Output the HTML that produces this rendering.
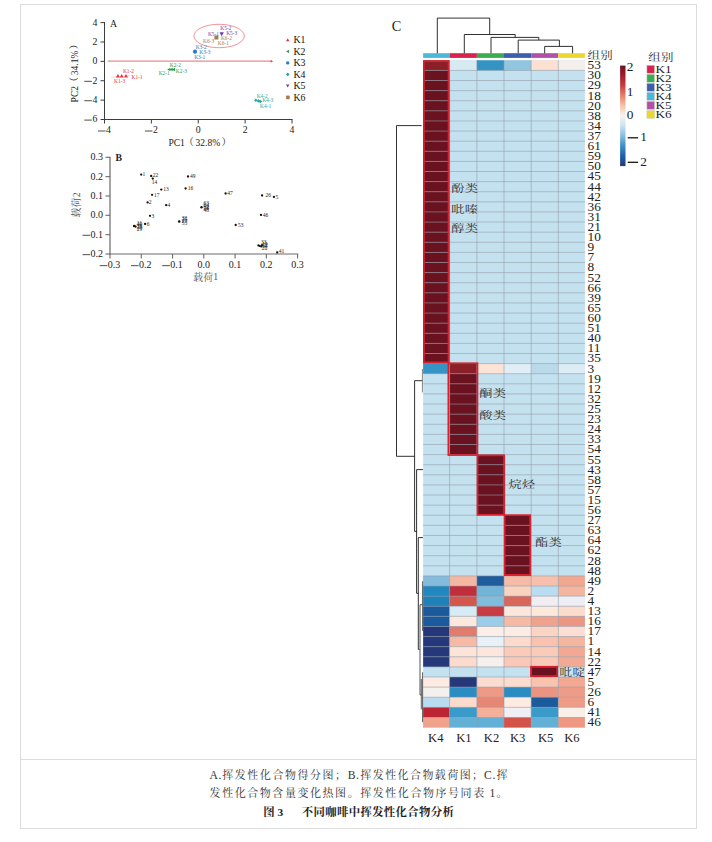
<!DOCTYPE html><html><head><meta charset="utf-8"><style>html,body{margin:0;padding:0;background:#fff;}svg{display:block;font-family:"Liberation Serif","Noto Serif CJK SC",serif;}</style></head><body><svg width="712" height="842" viewBox="0 0 712 842"><rect x="0" y="0" width="712" height="842" fill="#fff"/><rect x="20.5" y="4.5" width="676" height="824" fill="none" stroke="#dcdcdc" stroke-width="1"/>
<line x1="20.50" y1="759.50" x2="696.50" y2="759.50" stroke="#dcdcdc" stroke-width="1" />
<line x1="104.50" y1="22.10" x2="104.50" y2="120.00" stroke="#3c3c3c" stroke-width="1" />
<line x1="104.00" y1="119.50" x2="292.50" y2="119.50" stroke="#3c3c3c" stroke-width="1" />
<line x1="100.50" y1="22.60" x2="104.50" y2="22.60" stroke="#3c3c3c" stroke-width="1" />
<text x="92.40" y="25.50" font-size="9.8" fill="#222" text-anchor="start" font-weight="normal" font-family="Liberation Serif" >4</text>
<line x1="100.50" y1="41.98" x2="104.50" y2="41.98" stroke="#3c3c3c" stroke-width="1" />
<text x="92.40" y="44.88" font-size="9.8" fill="#222" text-anchor="start" font-weight="normal" font-family="Liberation Serif" >2</text>
<line x1="100.50" y1="61.36" x2="104.50" y2="61.36" stroke="#3c3c3c" stroke-width="1" />
<text x="92.40" y="64.26" font-size="9.8" fill="#222" text-anchor="start" font-weight="normal" font-family="Liberation Serif" >0</text>
<line x1="100.50" y1="80.74" x2="104.50" y2="80.74" stroke="#3c3c3c" stroke-width="1" />
<line x1="84.30" y1="81.34" x2="91.90" y2="81.34" stroke="#222" stroke-width="0.8" />
<text x="92.40" y="83.64" font-size="9.8" fill="#222" text-anchor="start" font-weight="normal" font-family="Liberation Serif" >2</text>
<line x1="100.50" y1="100.12" x2="104.50" y2="100.12" stroke="#3c3c3c" stroke-width="1" />
<line x1="84.30" y1="100.72" x2="91.90" y2="100.72" stroke="#222" stroke-width="0.8" />
<text x="92.40" y="103.02" font-size="9.8" fill="#222" text-anchor="start" font-weight="normal" font-family="Liberation Serif" >4</text>
<line x1="100.50" y1="119.50" x2="104.50" y2="119.50" stroke="#3c3c3c" stroke-width="1" />
<line x1="84.30" y1="120.10" x2="91.90" y2="120.10" stroke="#222" stroke-width="0.8" />
<text x="92.40" y="122.40" font-size="9.8" fill="#222" text-anchor="start" font-weight="normal" font-family="Liberation Serif" >6</text>
<line x1="104.50" y1="119.50" x2="104.50" y2="123.50" stroke="#3c3c3c" stroke-width="1" />
<line x1="98.00" y1="131.00" x2="105.60" y2="131.00" stroke="#222" stroke-width="0.8" />
<text x="106.10" y="133.30" font-size="9.8" fill="#222" text-anchor="start" font-weight="normal" font-family="Liberation Serif" >4</text>
<line x1="151.38" y1="119.50" x2="151.38" y2="123.50" stroke="#3c3c3c" stroke-width="1" />
<line x1="144.88" y1="131.00" x2="152.47" y2="131.00" stroke="#222" stroke-width="0.8" />
<text x="152.97" y="133.30" font-size="9.8" fill="#222" text-anchor="start" font-weight="normal" font-family="Liberation Serif" >2</text>
<line x1="198.25" y1="119.50" x2="198.25" y2="123.50" stroke="#3c3c3c" stroke-width="1" />
<text x="195.80" y="133.30" font-size="9.8" fill="#222" text-anchor="start" font-weight="normal" font-family="Liberation Serif" >0</text>
<line x1="245.12" y1="119.50" x2="245.12" y2="123.50" stroke="#3c3c3c" stroke-width="1" />
<text x="242.68" y="133.30" font-size="9.8" fill="#222" text-anchor="start" font-weight="normal" font-family="Liberation Serif" >2</text>
<line x1="292.00" y1="119.50" x2="292.00" y2="123.50" stroke="#3c3c3c" stroke-width="1" />
<text x="289.55" y="133.30" font-size="9.8" fill="#222" text-anchor="start" font-weight="normal" font-family="Liberation Serif" >4</text>
<text x="110.00" y="26.80" font-size="9.8" fill="#222" text-anchor="start" font-weight="normal" font-family="Liberation Serif" >A</text>
<text x="168.40" y="146.00" font-size="9.5" fill="#222" text-anchor="start" font-weight="normal" font-family="Liberation Serif" >PC1</text>
<text x="195.60" y="146.00" font-size="9.5" fill="#222" text-anchor="start" font-weight="normal" font-family="Liberation Serif" >32.8%</text>
<text x="184.00" y="146.20" font-size="9.8" fill="#222" text-anchor="start" font-family="'Liberation Serif','Noto Serif CJK SC',serif">（</text>
<text x="221.60" y="146.20" font-size="9.8" fill="#222" text-anchor="start" font-family="'Liberation Serif','Noto Serif CJK SC',serif">）</text>
<g transform="translate(78.0 102.4) rotate(-90)">
<text x="0.00" y="0.00" font-size="9.5" fill="#222" text-anchor="start" font-weight="normal" font-family="Liberation Serif" >PC2</text>
<text x="27.20" y="0.00" font-size="9.5" fill="#222" text-anchor="start" font-weight="normal" font-family="Liberation Serif" >34.1%</text>
<text x="15.60" y="0.20" font-size="9.8" fill="#222" text-anchor="start" font-family="'Liberation Serif','Noto Serif CJK SC',serif">（</text>
<text x="53.20" y="0.20" font-size="9.8" fill="#222" text-anchor="start" font-family="'Liberation Serif','Noto Serif CJK SC',serif">）</text>
</g>
<line x1="107.70" y1="61.10" x2="271.50" y2="61.10" stroke="#e23a46" stroke-width="0.75" />
<path d="M273.2 61.2 L270.6 60.0 L270.6 62.4 Z" fill="#e23a46"/>
<ellipse cx="219.1" cy="36.0" rx="25.2" ry="11.7" fill="none" stroke="#e23a46" stroke-width="0.55"/>
<line x1="111.20" y1="77.40" x2="130.20" y2="75.50" stroke="#f4b4b8" stroke-width="0.6" />
<path d="M117.90 74.00 L119.90 77.60 L115.90 77.60 Z" fill="#e8323c"/>
<path d="M121.70 74.00 L123.70 77.60 L119.70 77.60 Z" fill="#e8323c"/>
<path d="M126.00 74.00 L128.00 77.60 L124.00 77.60 Z" fill="#e8323c"/>
<text x="122.90" y="72.50" font-size="5.4" fill="#e8323c" text-anchor="start" font-weight="normal" font-family="Liberation Serif" >K1-2</text>
<text x="131.60" y="78.60" font-size="5.4" fill="#e8323c" text-anchor="start" font-weight="normal" font-family="Liberation Serif" >K1-1</text>
<text x="114.00" y="82.80" font-size="5.4" fill="#e8323c" text-anchor="start" font-weight="normal" font-family="Liberation Serif" >K1-3</text>
<path d="M167.20 69.50 L170.44 67.70 L170.44 71.30 Z" fill="#2f9a52"/>
<path d="M169.60 69.50 L172.84 67.70 L172.84 71.30 Z" fill="#2f9a52"/>
<path d="M171.80 69.50 L175.04 67.70 L175.04 71.30 Z" fill="#2f9a52"/>
<text x="169.80" y="66.90" font-size="5.4" fill="#2f9a52" text-anchor="start" font-weight="normal" font-family="Liberation Serif" >K2-2</text>
<text x="175.80" y="72.50" font-size="5.4" fill="#2f9a52" text-anchor="start" font-weight="normal" font-family="Liberation Serif" >K2-3</text>
<text x="158.70" y="74.80" font-size="5.4" fill="#2f9a52" text-anchor="start" font-weight="normal" font-family="Liberation Serif" >K2-1</text>
<circle cx="195.00" cy="51.70" r="2.1" fill="#2b7cc4"/>
<text x="195.70" y="49.20" font-size="5.4" fill="#2b7cc4" text-anchor="start" font-weight="normal" font-family="Liberation Serif" >K3-2</text>
<text x="199.30" y="53.70" font-size="5.4" fill="#2b7cc4" text-anchor="start" font-weight="normal" font-family="Liberation Serif" >K3-3</text>
<text x="194.20" y="59.00" font-size="5.4" fill="#2b7cc4" text-anchor="start" font-weight="normal" font-family="Liberation Serif" >K3-1</text>
<path d="M254.00 100.30 L255.80 98.50 L257.60 100.30 L255.80 102.10 Z" fill="#2ba79f"/>
<path d="M256.60 100.90 L258.40 99.10 L260.20 100.90 L258.40 102.70 Z" fill="#2ba79f"/>
<path d="M258.60 101.50 L260.40 99.70 L262.20 101.50 L260.40 103.30 Z" fill="#2ba79f"/>
<text x="256.70" y="97.70" font-size="5.4" fill="#2ba79f" text-anchor="start" font-weight="normal" font-family="Liberation Serif" >K4-2</text>
<text x="262.20" y="101.80" font-size="5.4" fill="#2ba79f" text-anchor="start" font-weight="normal" font-family="Liberation Serif" >K4-3</text>
<text x="260.00" y="108.10" font-size="5.4" fill="#2ba79f" text-anchor="start" font-weight="normal" font-family="Liberation Serif" >K4-1</text>
<path d="M221.70 36.20 L223.90 32.24 L219.50 32.24 Z" fill="#6a3fa6"/>
<text x="220.30" y="29.80" font-size="5.4" fill="#6a3fa6" text-anchor="start" font-weight="normal" font-family="Liberation Serif" >K5-2</text>
<text x="226.20" y="35.00" font-size="5.4" fill="#6a3fa6" text-anchor="start" font-weight="normal" font-family="Liberation Serif" >K5-3</text>
<text x="207.90" y="36.40" font-size="5.4" fill="#6a3fa6" text-anchor="start" font-weight="normal" font-family="Liberation Serif" >K5-1</text>
<rect x="214.40" y="35.50" width="4.00" height="4.00" fill="#a67a50" />
<text x="220.90" y="40.30" font-size="5.4" fill="#a67a50" text-anchor="start" font-weight="normal" font-family="Liberation Serif" >K6-2</text>
<text x="203.00" y="42.70" font-size="5.4" fill="#a67a50" text-anchor="start" font-weight="normal" font-family="Liberation Serif" >K6-3</text>
<text x="217.80" y="44.80" font-size="5.4" fill="#a67a50" text-anchor="start" font-weight="normal" font-family="Liberation Serif" >K6-1</text>
<path d="M287.70 38.20 L289.40 41.26 L286.00 41.26 Z" fill="#e8323c"/>
<path d="M286.00 51.40 L289.06 49.70 L289.06 53.10 Z" fill="#2f9a52"/>
<circle cx="287.70" cy="62.90" r="1.7" fill="#2b7cc4"/>
<path d="M285.80 74.40 L287.70 72.50 L289.60 74.40 L287.70 76.30 Z" fill="#2ba79f"/>
<path d="M287.70 87.60 L289.40 84.54 L286.00 84.54 Z" fill="#6a3fa6"/>
<rect x="286.10" y="95.60" width="3.60" height="3.60" fill="#a67a50" />
<text x="293.50" y="43.20" font-size="9.8" fill="#111" text-anchor="start" font-weight="normal" font-family="Liberation Serif" >K1</text>
<text x="293.50" y="54.70" font-size="9.8" fill="#111" text-anchor="start" font-weight="normal" font-family="Liberation Serif" >K2</text>
<text x="293.50" y="66.20" font-size="9.8" fill="#111" text-anchor="start" font-weight="normal" font-family="Liberation Serif" >K3</text>
<text x="293.50" y="77.70" font-size="9.8" fill="#111" text-anchor="start" font-weight="normal" font-family="Liberation Serif" >K4</text>
<text x="293.50" y="89.20" font-size="9.8" fill="#111" text-anchor="start" font-weight="normal" font-family="Liberation Serif" >K5</text>
<text x="293.50" y="100.70" font-size="9.8" fill="#111" text-anchor="start" font-weight="normal" font-family="Liberation Serif" >K6</text>
<line x1="110.00" y1="156.70" x2="110.00" y2="254.60" stroke="#6a6a6a" stroke-width="1.2" />
<line x1="109.40" y1="254.00" x2="298.20" y2="254.00" stroke="#6a6a6a" stroke-width="1.2" />
<line x1="105.50" y1="157.30" x2="110.00" y2="157.30" stroke="#6a6a6a" stroke-width="1.1" />
<text x="90.60" y="160.30" font-size="10.0" fill="#222" text-anchor="start" font-weight="normal" font-family="Liberation Serif" >0.3</text>
<line x1="105.50" y1="176.64" x2="110.00" y2="176.64" stroke="#6a6a6a" stroke-width="1.1" />
<text x="90.60" y="179.64" font-size="10.0" fill="#222" text-anchor="start" font-weight="normal" font-family="Liberation Serif" >0.2</text>
<line x1="105.50" y1="195.98" x2="110.00" y2="195.98" stroke="#6a6a6a" stroke-width="1.1" />
<text x="90.60" y="198.98" font-size="10.0" fill="#222" text-anchor="start" font-weight="normal" font-family="Liberation Serif" >0.1</text>
<line x1="105.50" y1="215.32" x2="110.00" y2="215.32" stroke="#6a6a6a" stroke-width="1.1" />
<text x="90.60" y="218.32" font-size="10.0" fill="#222" text-anchor="start" font-weight="normal" font-family="Liberation Serif" >0.0</text>
<line x1="105.50" y1="234.66" x2="110.00" y2="234.66" stroke="#6a6a6a" stroke-width="1.1" />
<line x1="82.50" y1="235.31" x2="90.10" y2="235.31" stroke="#222" stroke-width="0.8" />
<text x="90.60" y="237.66" font-size="10.0" fill="#222" text-anchor="start" font-weight="normal" font-family="Liberation Serif" >0.1</text>
<line x1="105.50" y1="254.00" x2="110.00" y2="254.00" stroke="#6a6a6a" stroke-width="1.1" />
<line x1="82.50" y1="254.65" x2="90.10" y2="254.65" stroke="#222" stroke-width="0.8" />
<text x="90.60" y="257.00" font-size="10.0" fill="#222" text-anchor="start" font-weight="normal" font-family="Liberation Serif" >0.2</text>
<line x1="110.00" y1="254.00" x2="110.00" y2="258.50" stroke="#6a6a6a" stroke-width="1.1" />
<line x1="99.70" y1="265.65" x2="107.30" y2="265.65" stroke="#222" stroke-width="0.8" />
<text x="107.80" y="268.00" font-size="10.0" fill="#222" text-anchor="start" font-weight="normal" font-family="Liberation Serif" >0.3</text>
<line x1="141.27" y1="254.00" x2="141.27" y2="258.50" stroke="#6a6a6a" stroke-width="1.1" />
<line x1="130.97" y1="265.65" x2="138.57" y2="265.65" stroke="#222" stroke-width="0.8" />
<text x="139.07" y="268.00" font-size="10.0" fill="#222" text-anchor="start" font-weight="normal" font-family="Liberation Serif" >0.2</text>
<line x1="172.53" y1="254.00" x2="172.53" y2="258.50" stroke="#6a6a6a" stroke-width="1.1" />
<line x1="162.23" y1="265.65" x2="169.83" y2="265.65" stroke="#222" stroke-width="0.8" />
<text x="170.33" y="268.00" font-size="10.0" fill="#222" text-anchor="start" font-weight="normal" font-family="Liberation Serif" >0.1</text>
<line x1="203.80" y1="254.00" x2="203.80" y2="258.50" stroke="#6a6a6a" stroke-width="1.1" />
<text x="197.55" y="268.00" font-size="10.0" fill="#222" text-anchor="start" font-weight="normal" font-family="Liberation Serif" >0.0</text>
<line x1="235.07" y1="254.00" x2="235.07" y2="258.50" stroke="#6a6a6a" stroke-width="1.1" />
<text x="228.82" y="268.00" font-size="10.0" fill="#222" text-anchor="start" font-weight="normal" font-family="Liberation Serif" >0.1</text>
<line x1="266.33" y1="254.00" x2="266.33" y2="258.50" stroke="#6a6a6a" stroke-width="1.1" />
<text x="260.08" y="268.00" font-size="10.0" fill="#222" text-anchor="start" font-weight="normal" font-family="Liberation Serif" >0.2</text>
<line x1="297.60" y1="254.00" x2="297.60" y2="258.50" stroke="#6a6a6a" stroke-width="1.1" />
<text x="291.35" y="268.00" font-size="10.0" fill="#222" text-anchor="start" font-weight="normal" font-family="Liberation Serif" >0.3</text>
<text x="115.60" y="161.40" font-size="9.8" fill="#222" text-anchor="start" font-weight="bold" font-family="Liberation Serif" >B</text>
<text x="193.20" y="280.60" font-size="9.8" fill="#555" text-anchor="start" letter-spacing="0.2" font-family="'Liberation Serif','Noto Serif CJK SC',serif">载荷</text>
<text x="213.30" y="280.30" font-size="9.8" fill="#555" text-anchor="start" font-weight="normal" font-family="Liberation Serif" >1</text>
<g transform="translate(80.0 217.4) rotate(-90)">
<text x="0.00" y="0.00" font-size="9.8" fill="#555" text-anchor="start" letter-spacing="0.2" font-family="'Liberation Serif','Noto Serif CJK SC',serif">载荷</text>
<text x="20.10" y="-0.30" font-size="9.8" fill="#555" text-anchor="start" font-weight="normal" font-family="Liberation Serif" >2</text>
</g>
<circle cx="141.20" cy="174.60" r="1.15" fill="#111"/>
<text x="142.50" y="176.40" font-size="5.5" fill="#222" text-anchor="start" font-weight="normal" font-family="Liberation Serif" >1</text>
<circle cx="151.20" cy="176.00" r="1.15" fill="#111"/>
<text x="152.70" y="177.00" font-size="5.5" fill="#222" text-anchor="start" font-weight="normal" font-family="Liberation Serif" >22</text>
<circle cx="152.80" cy="178.60" r="1.15" fill="#111"/>
<text x="151.70" y="183.70" font-size="5.5" fill="#222" text-anchor="start" font-weight="normal" font-family="Liberation Serif" >14</text>
<circle cx="161.30" cy="189.60" r="1.15" fill="#111"/>
<text x="163.20" y="191.40" font-size="5.5" fill="#222" text-anchor="start" font-weight="normal" font-family="Liberation Serif" >13</text>
<circle cx="152.10" cy="194.80" r="1.15" fill="#111"/>
<text x="154.00" y="196.60" font-size="5.5" fill="#222" text-anchor="start" font-weight="normal" font-family="Liberation Serif" >17</text>
<circle cx="147.60" cy="202.40" r="1.15" fill="#111"/>
<text x="148.70" y="204.20" font-size="5.5" fill="#222" text-anchor="start" font-weight="normal" font-family="Liberation Serif" >2</text>
<circle cx="166.20" cy="205.20" r="1.15" fill="#111"/>
<text x="167.50" y="207.00" font-size="5.5" fill="#222" text-anchor="start" font-weight="normal" font-family="Liberation Serif" >4</text>
<circle cx="150.00" cy="215.80" r="1.15" fill="#111"/>
<text x="151.50" y="217.60" font-size="5.5" fill="#222" text-anchor="start" font-weight="normal" font-family="Liberation Serif" >3</text>
<circle cx="145.10" cy="224.00" r="1.15" fill="#111"/>
<text x="146.80" y="225.80" font-size="5.5" fill="#222" text-anchor="start" font-weight="normal" font-family="Liberation Serif" >6</text>
<circle cx="188.00" cy="176.50" r="1.15" fill="#111"/>
<text x="189.90" y="178.30" font-size="5.5" fill="#222" text-anchor="start" font-weight="normal" font-family="Liberation Serif" >49</text>
<circle cx="185.60" cy="188.50" r="1.15" fill="#111"/>
<text x="187.70" y="190.30" font-size="5.5" fill="#222" text-anchor="start" font-weight="normal" font-family="Liberation Serif" >16</text>
<circle cx="225.60" cy="193.50" r="1.15" fill="#111"/>
<text x="227.30" y="195.30" font-size="5.5" fill="#222" text-anchor="start" font-weight="normal" font-family="Liberation Serif" >47</text>
<circle cx="262.10" cy="195.50" r="1.15" fill="#111"/>
<text x="265.40" y="197.30" font-size="5.5" fill="#222" text-anchor="start" font-weight="normal" font-family="Liberation Serif" >26</text>
<circle cx="273.90" cy="196.90" r="1.15" fill="#111"/>
<text x="275.40" y="198.70" font-size="5.5" fill="#222" text-anchor="start" font-weight="normal" font-family="Liberation Serif" >5</text>
<circle cx="261.00" cy="214.90" r="1.15" fill="#111"/>
<text x="262.70" y="216.70" font-size="5.5" fill="#222" text-anchor="start" font-weight="normal" font-family="Liberation Serif" >46</text>
<circle cx="235.70" cy="225.00" r="1.15" fill="#111"/>
<text x="238.00" y="226.80" font-size="5.5" fill="#222" text-anchor="start" font-weight="normal" font-family="Liberation Serif" >53</text>
<circle cx="277.20" cy="252.40" r="1.15" fill="#111"/>
<text x="278.70" y="253.00" font-size="5.5" fill="#222" text-anchor="start" font-weight="normal" font-family="Liberation Serif" >41</text>
<circle cx="134.20" cy="226.00" r="1.3" fill="#111"/>
<circle cx="135.60" cy="226.60" r="1.1" fill="#111"/>
<text x="136.80" y="224.60" font-size="5.5" fill="#222" text-anchor="start" font-weight="normal" font-family="Liberation Serif" >11</text>
<text x="136.80" y="226.20" font-size="5.5" fill="#222" text-anchor="start" font-weight="normal" font-family="Liberation Serif" >40</text>
<text x="136.80" y="227.80" font-size="5.5" fill="#222" text-anchor="start" font-weight="normal" font-family="Liberation Serif" >35</text>
<text x="136.80" y="229.40" font-size="5.5" fill="#222" text-anchor="start" font-weight="normal" font-family="Liberation Serif" >28</text>
<text x="136.80" y="231.00" font-size="5.5" fill="#222" text-anchor="start" font-weight="normal" font-family="Liberation Serif" >29</text>
<circle cx="179.20" cy="221.50" r="1.3" fill="#111"/>
<text x="181.80" y="219.70" font-size="5.5" fill="#222" text-anchor="start" font-weight="normal" font-family="Liberation Serif" >32</text>
<text x="181.80" y="221.30" font-size="5.5" fill="#222" text-anchor="start" font-weight="normal" font-family="Liberation Serif" >25</text>
<text x="181.80" y="222.90" font-size="5.5" fill="#222" text-anchor="start" font-weight="normal" font-family="Liberation Serif" >23</text>
<text x="181.80" y="224.90" font-size="5.5" fill="#222" text-anchor="start" font-weight="normal" font-family="Liberation Serif" >55</text>
<circle cx="201.50" cy="207.20" r="1.2" fill="#111"/>
<text x="203.60" y="205.40" font-size="5.5" fill="#222" text-anchor="start" font-weight="normal" font-family="Liberation Serif" >63</text>
<text x="203.60" y="207.00" font-size="5.5" fill="#222" text-anchor="start" font-weight="normal" font-family="Liberation Serif" >64</text>
<text x="203.60" y="208.60" font-size="5.5" fill="#222" text-anchor="start" font-weight="normal" font-family="Liberation Serif" >62</text>
<text x="203.60" y="210.20" font-size="5.5" fill="#222" text-anchor="start" font-weight="normal" font-family="Liberation Serif" >28</text>
<text x="203.60" y="211.80" font-size="5.5" fill="#222" text-anchor="start" font-weight="normal" font-family="Liberation Serif" >48</text>
<circle cx="258.40" cy="245.40" r="1.1" fill="#111"/>
<circle cx="259.80" cy="246.00" r="1.1" fill="#111"/>
<circle cx="261.20" cy="246.40" r="1.1" fill="#111"/>
<circle cx="262.00" cy="245.20" r="1.1" fill="#111"/>
<text x="261.00" y="243.80" font-size="5.5" fill="#222" text-anchor="start" font-weight="normal" font-family="Liberation Serif" >33</text>
<text x="261.80" y="245.60" font-size="5.5" fill="#222" text-anchor="start" font-weight="normal" font-family="Liberation Serif" >19</text>
<text x="262.40" y="247.00" font-size="5.5" fill="#222" text-anchor="start" font-weight="normal" font-family="Liberation Serif" >12</text>
<text x="261.40" y="248.40" font-size="5.5" fill="#222" text-anchor="start" font-weight="normal" font-family="Liberation Serif" >54</text>
<text x="261.80" y="249.80" font-size="5.5" fill="#222" text-anchor="start" font-weight="normal" font-family="Liberation Serif" >20</text>
<text x="391.80" y="30.60" font-size="14.3" fill="#222" text-anchor="start" font-weight="normal" font-family="Liberation Serif" >C</text>
<rect x="423.15" y="60.30" width="161.75" height="667.26" fill="#c4e1ef" />
<rect x="423.15" y="60.30" width="26.45" height="10.11" fill="#8b2028" />
<rect x="449.60" y="60.30" width="27.30" height="10.11" fill="#d7eaf2" />
<rect x="476.90" y="60.30" width="27.10" height="10.11" fill="#3393c3" />
<rect x="504.00" y="60.30" width="27.20" height="10.11" fill="#92c6df" />
<rect x="531.20" y="60.30" width="27.10" height="10.11" fill="#fde0d1" />
<rect x="558.30" y="60.30" width="26.60" height="10.11" fill="#f5efec" />
<rect x="423.15" y="70.41" width="26.45" height="10.11" fill="#6b1220" />
<rect x="423.15" y="80.52" width="26.45" height="10.11" fill="#6b1220" />
<rect x="423.15" y="90.63" width="26.45" height="10.11" fill="#6b1220" />
<rect x="423.15" y="100.74" width="26.45" height="10.11" fill="#6b1220" />
<rect x="423.15" y="110.85" width="26.45" height="10.11" fill="#6b1220" />
<rect x="423.15" y="120.96" width="26.45" height="10.11" fill="#6b1220" />
<rect x="423.15" y="131.07" width="26.45" height="10.11" fill="#6b1220" />
<rect x="423.15" y="141.18" width="26.45" height="10.11" fill="#6b1220" />
<rect x="423.15" y="151.29" width="26.45" height="10.11" fill="#6b1220" />
<rect x="423.15" y="161.40" width="26.45" height="10.11" fill="#6b1220" />
<rect x="423.15" y="171.51" width="26.45" height="10.11" fill="#6b1220" />
<rect x="423.15" y="181.62" width="26.45" height="10.11" fill="#6b1220" />
<rect x="423.15" y="191.73" width="26.45" height="10.11" fill="#6b1220" />
<rect x="423.15" y="201.84" width="26.45" height="10.11" fill="#6b1220" />
<rect x="423.15" y="211.95" width="26.45" height="10.11" fill="#6b1220" />
<rect x="423.15" y="222.06" width="26.45" height="10.11" fill="#6b1220" />
<rect x="423.15" y="232.17" width="26.45" height="10.11" fill="#6b1220" />
<rect x="423.15" y="242.28" width="26.45" height="10.11" fill="#6b1220" />
<rect x="423.15" y="252.39" width="26.45" height="10.11" fill="#6b1220" />
<rect x="423.15" y="262.50" width="26.45" height="10.11" fill="#6b1220" />
<rect x="423.15" y="272.61" width="26.45" height="10.11" fill="#6b1220" />
<rect x="423.15" y="282.72" width="26.45" height="10.11" fill="#6b1220" />
<rect x="423.15" y="292.83" width="26.45" height="10.11" fill="#6b1220" />
<rect x="423.15" y="302.94" width="26.45" height="10.11" fill="#6b1220" />
<rect x="423.15" y="313.05" width="26.45" height="10.11" fill="#6b1220" />
<rect x="423.15" y="323.16" width="26.45" height="10.11" fill="#6b1220" />
<rect x="423.15" y="333.27" width="26.45" height="10.11" fill="#6b1220" />
<rect x="423.15" y="343.38" width="26.45" height="10.11" fill="#6b1220" />
<rect x="423.15" y="353.49" width="26.45" height="10.11" fill="#6b1220" />
<rect x="423.15" y="363.60" width="26.45" height="10.11" fill="#3594c6" />
<rect x="449.60" y="363.60" width="27.30" height="10.11" fill="#8b2028" />
<rect x="476.90" y="363.60" width="27.10" height="10.11" fill="#fde3d6" />
<rect x="504.00" y="363.60" width="27.20" height="10.11" fill="#e1eef5" />
<rect x="531.20" y="363.60" width="27.10" height="10.11" fill="#badaec" />
<rect x="558.30" y="363.60" width="26.60" height="10.11" fill="#dcecf4" />
<rect x="449.60" y="373.71" width="27.30" height="10.11" fill="#6b1220" />
<rect x="449.60" y="383.82" width="27.30" height="10.11" fill="#6b1220" />
<rect x="449.60" y="393.93" width="27.30" height="10.11" fill="#6b1220" />
<rect x="449.60" y="404.04" width="27.30" height="10.11" fill="#6b1220" />
<rect x="449.60" y="414.15" width="27.30" height="10.11" fill="#6b1220" />
<rect x="449.60" y="424.26" width="27.30" height="10.11" fill="#6b1220" />
<rect x="449.60" y="434.37" width="27.30" height="10.11" fill="#6b1220" />
<rect x="449.60" y="444.48" width="27.30" height="10.11" fill="#6b1220" />
<rect x="476.90" y="454.59" width="27.10" height="10.11" fill="#6b1220" />
<rect x="476.90" y="464.70" width="27.10" height="10.11" fill="#6b1220" />
<rect x="476.90" y="474.81" width="27.10" height="10.11" fill="#6b1220" />
<rect x="476.90" y="484.92" width="27.10" height="10.11" fill="#6b1220" />
<rect x="476.90" y="495.03" width="27.10" height="10.11" fill="#6b1220" />
<rect x="476.90" y="505.14" width="27.10" height="10.11" fill="#6b1220" />
<rect x="504.00" y="515.25" width="27.20" height="10.11" fill="#6b1220" />
<rect x="504.00" y="525.36" width="27.20" height="10.11" fill="#6b1220" />
<rect x="504.00" y="535.47" width="27.20" height="10.11" fill="#6b1220" />
<rect x="504.00" y="545.58" width="27.20" height="10.11" fill="#6b1220" />
<rect x="504.00" y="555.69" width="27.20" height="10.11" fill="#6b1220" />
<rect x="504.00" y="565.80" width="27.20" height="10.11" fill="#6b1220" />
<rect x="423.15" y="575.91" width="26.45" height="10.11" fill="#82bbdc" />
<rect x="449.60" y="575.91" width="27.30" height="10.11" fill="#f4b8a2" />
<rect x="476.90" y="575.91" width="27.10" height="10.11" fill="#1f5c9e" />
<rect x="504.00" y="575.91" width="27.20" height="10.11" fill="#f5bba6" />
<rect x="531.20" y="575.91" width="27.10" height="10.11" fill="#f6c0ac" />
<rect x="558.30" y="575.91" width="26.60" height="10.11" fill="#f2a890" />
<rect x="423.15" y="586.02" width="26.45" height="10.11" fill="#2187bf" />
<rect x="449.60" y="586.02" width="27.30" height="10.11" fill="#bf2f3b" />
<rect x="476.90" y="586.02" width="27.10" height="10.11" fill="#72b4d8" />
<rect x="504.00" y="586.02" width="27.20" height="10.11" fill="#fad2c0" />
<rect x="531.20" y="586.02" width="27.10" height="10.11" fill="#badcf0" />
<rect x="558.30" y="586.02" width="26.60" height="10.11" fill="#f4b49e" />
<rect x="423.15" y="596.13" width="26.45" height="10.11" fill="#2080b8" />
<rect x="449.60" y="596.13" width="27.30" height="10.11" fill="#d4574d" />
<rect x="476.90" y="596.13" width="27.10" height="10.11" fill="#80bddc" />
<rect x="504.00" y="596.13" width="27.20" height="10.11" fill="#d9665a" />
<rect x="531.20" y="596.13" width="27.10" height="10.11" fill="#f0eef0" />
<rect x="558.30" y="596.13" width="26.60" height="10.11" fill="#eceef4" />
<rect x="423.15" y="606.24" width="26.45" height="10.11" fill="#1c5a9e" />
<rect x="449.60" y="606.24" width="27.30" height="10.11" fill="#d6ebf6" />
<rect x="476.90" y="606.24" width="27.10" height="10.11" fill="#c83c44" />
<rect x="504.00" y="606.24" width="27.20" height="10.11" fill="#fde6dc" />
<rect x="531.20" y="606.24" width="27.10" height="10.11" fill="#fde8dc" />
<rect x="558.30" y="606.24" width="26.60" height="10.11" fill="#fcdccc" />
<rect x="423.15" y="616.35" width="26.45" height="10.11" fill="#1c5a9e" />
<rect x="449.60" y="616.35" width="27.30" height="10.11" fill="#fde8de" />
<rect x="476.90" y="616.35" width="27.10" height="10.11" fill="#9ccde8" />
<rect x="504.00" y="616.35" width="27.20" height="10.11" fill="#f6baa4" />
<rect x="531.20" y="616.35" width="27.10" height="10.11" fill="#f0a28c" />
<rect x="558.30" y="616.35" width="26.60" height="10.11" fill="#ec9684" />
<rect x="423.15" y="626.46" width="26.45" height="10.11" fill="#25397a" />
<rect x="449.60" y="626.46" width="27.30" height="10.11" fill="#e07c6e" />
<rect x="476.90" y="626.46" width="27.10" height="10.11" fill="#fbeee8" />
<rect x="504.00" y="626.46" width="27.20" height="10.11" fill="#fdece4" />
<rect x="531.20" y="626.46" width="27.10" height="10.11" fill="#fbd4c4" />
<rect x="558.30" y="626.46" width="26.60" height="10.11" fill="#fcdfd2" />
<rect x="423.15" y="636.57" width="26.45" height="10.11" fill="#25397a" />
<rect x="449.60" y="636.57" width="27.30" height="10.11" fill="#f6b9a4" />
<rect x="476.90" y="636.57" width="27.10" height="10.11" fill="#e8f0f8" />
<rect x="504.00" y="636.57" width="27.20" height="10.11" fill="#fcdacc" />
<rect x="531.20" y="636.57" width="27.10" height="10.11" fill="#f8c2ae" />
<rect x="558.30" y="636.57" width="26.60" height="10.11" fill="#f5b6a0" />
<rect x="423.15" y="646.68" width="26.45" height="10.11" fill="#25397a" />
<rect x="449.60" y="646.68" width="27.30" height="10.11" fill="#fde4d8" />
<rect x="476.90" y="646.68" width="27.10" height="10.11" fill="#fde6de" />
<rect x="504.00" y="646.68" width="27.20" height="10.11" fill="#f9cbb8" />
<rect x="531.20" y="646.68" width="27.10" height="10.11" fill="#f9ccba" />
<rect x="558.30" y="646.68" width="26.60" height="10.11" fill="#f2a892" />
<rect x="423.15" y="656.79" width="26.45" height="10.11" fill="#25397a" />
<rect x="449.60" y="656.79" width="27.30" height="10.11" fill="#fcdacc" />
<rect x="476.90" y="656.79" width="27.10" height="10.11" fill="#f6f0ec" />
<rect x="504.00" y="656.79" width="27.20" height="10.11" fill="#f9c8b6" />
<rect x="531.20" y="656.79" width="27.10" height="10.11" fill="#f9cab8" />
<rect x="558.30" y="656.79" width="26.60" height="10.11" fill="#f2aa94" />
<rect x="531.20" y="666.90" width="27.10" height="10.11" fill="#6b1220" />
<rect x="558.30" y="666.90" width="26.60" height="10.11" fill="#c9e3f0" />
<rect x="423.15" y="677.01" width="26.45" height="10.11" fill="#fdeae0" />
<rect x="449.60" y="677.01" width="27.30" height="10.11" fill="#25397a" />
<rect x="476.90" y="677.01" width="27.10" height="10.11" fill="#fcdccf" />
<rect x="504.00" y="677.01" width="27.20" height="10.11" fill="#fcdccf" />
<rect x="531.20" y="677.01" width="27.10" height="10.11" fill="#f8c4b0" />
<rect x="558.30" y="677.01" width="26.60" height="10.11" fill="#f2a892" />
<rect x="423.15" y="687.12" width="26.45" height="10.11" fill="#f4f0ee" />
<rect x="449.60" y="687.12" width="27.30" height="10.11" fill="#2a8cc2" />
<rect x="476.90" y="687.12" width="27.10" height="10.11" fill="#ee9a86" />
<rect x="504.00" y="687.12" width="27.20" height="10.11" fill="#2a8cc2" />
<rect x="531.20" y="687.12" width="27.10" height="10.11" fill="#ec9482" />
<rect x="558.30" y="687.12" width="26.60" height="10.11" fill="#ee9c88" />
<rect x="423.15" y="697.23" width="26.45" height="10.11" fill="#badcf0" />
<rect x="449.60" y="697.23" width="27.30" height="10.11" fill="#fcdacc" />
<rect x="476.90" y="697.23" width="27.10" height="10.11" fill="#e68674" />
<rect x="504.00" y="697.23" width="27.20" height="10.11" fill="#fdeae0" />
<rect x="531.20" y="697.23" width="27.10" height="10.11" fill="#1c5a9e" />
<rect x="558.30" y="697.23" width="26.60" height="10.11" fill="#ee9c88" />
<rect x="423.15" y="707.34" width="26.45" height="10.11" fill="#bd2433" />
<rect x="449.60" y="707.34" width="27.30" height="10.11" fill="#3a9aca" />
<rect x="476.90" y="707.34" width="27.10" height="10.11" fill="#f4b09a" />
<rect x="504.00" y="707.34" width="27.20" height="10.11" fill="#f0f0f4" />
<rect x="531.20" y="707.34" width="27.10" height="10.11" fill="#3a9aca" />
<rect x="558.30" y="707.34" width="26.60" height="10.11" fill="#faf0ea" />
<rect x="423.15" y="717.45" width="26.45" height="10.11" fill="#f0a28c" />
<rect x="449.60" y="717.45" width="27.30" height="10.11" fill="#62b0d6" />
<rect x="476.90" y="717.45" width="27.10" height="10.11" fill="#62b0d6" />
<rect x="504.00" y="717.45" width="27.20" height="10.11" fill="#d4524a" />
<rect x="531.20" y="717.45" width="27.10" height="10.11" fill="#62b0d6" />
<rect x="558.30" y="717.45" width="26.60" height="10.11" fill="#ee9884" />
<line x1="423.15" y1="70.41" x2="584.90" y2="70.41" stroke="#929ba6" stroke-width="0.7" stroke-opacity="0.8"/>
<line x1="423.15" y1="80.52" x2="584.90" y2="80.52" stroke="#929ba6" stroke-width="0.7" stroke-opacity="0.8"/>
<line x1="423.15" y1="90.63" x2="584.90" y2="90.63" stroke="#929ba6" stroke-width="0.7" stroke-opacity="0.8"/>
<line x1="423.15" y1="100.74" x2="584.90" y2="100.74" stroke="#929ba6" stroke-width="0.7" stroke-opacity="0.8"/>
<line x1="423.15" y1="110.85" x2="584.90" y2="110.85" stroke="#929ba6" stroke-width="0.7" stroke-opacity="0.8"/>
<line x1="423.15" y1="120.96" x2="584.90" y2="120.96" stroke="#929ba6" stroke-width="0.7" stroke-opacity="0.8"/>
<line x1="423.15" y1="131.07" x2="584.90" y2="131.07" stroke="#929ba6" stroke-width="0.7" stroke-opacity="0.8"/>
<line x1="423.15" y1="141.18" x2="584.90" y2="141.18" stroke="#929ba6" stroke-width="0.7" stroke-opacity="0.8"/>
<line x1="423.15" y1="151.29" x2="584.90" y2="151.29" stroke="#929ba6" stroke-width="0.7" stroke-opacity="0.8"/>
<line x1="423.15" y1="161.40" x2="584.90" y2="161.40" stroke="#929ba6" stroke-width="0.7" stroke-opacity="0.8"/>
<line x1="423.15" y1="171.51" x2="584.90" y2="171.51" stroke="#929ba6" stroke-width="0.7" stroke-opacity="0.8"/>
<line x1="423.15" y1="181.62" x2="584.90" y2="181.62" stroke="#929ba6" stroke-width="0.7" stroke-opacity="0.8"/>
<line x1="423.15" y1="191.73" x2="584.90" y2="191.73" stroke="#929ba6" stroke-width="0.7" stroke-opacity="0.8"/>
<line x1="423.15" y1="201.84" x2="584.90" y2="201.84" stroke="#929ba6" stroke-width="0.7" stroke-opacity="0.8"/>
<line x1="423.15" y1="211.95" x2="584.90" y2="211.95" stroke="#929ba6" stroke-width="0.7" stroke-opacity="0.8"/>
<line x1="423.15" y1="222.06" x2="584.90" y2="222.06" stroke="#929ba6" stroke-width="0.7" stroke-opacity="0.8"/>
<line x1="423.15" y1="232.17" x2="584.90" y2="232.17" stroke="#929ba6" stroke-width="0.7" stroke-opacity="0.8"/>
<line x1="423.15" y1="242.28" x2="584.90" y2="242.28" stroke="#929ba6" stroke-width="0.7" stroke-opacity="0.8"/>
<line x1="423.15" y1="252.39" x2="584.90" y2="252.39" stroke="#929ba6" stroke-width="0.7" stroke-opacity="0.8"/>
<line x1="423.15" y1="262.50" x2="584.90" y2="262.50" stroke="#929ba6" stroke-width="0.7" stroke-opacity="0.8"/>
<line x1="423.15" y1="272.61" x2="584.90" y2="272.61" stroke="#929ba6" stroke-width="0.7" stroke-opacity="0.8"/>
<line x1="423.15" y1="282.72" x2="584.90" y2="282.72" stroke="#929ba6" stroke-width="0.7" stroke-opacity="0.8"/>
<line x1="423.15" y1="292.83" x2="584.90" y2="292.83" stroke="#929ba6" stroke-width="0.7" stroke-opacity="0.8"/>
<line x1="423.15" y1="302.94" x2="584.90" y2="302.94" stroke="#929ba6" stroke-width="0.7" stroke-opacity="0.8"/>
<line x1="423.15" y1="313.05" x2="584.90" y2="313.05" stroke="#929ba6" stroke-width="0.7" stroke-opacity="0.8"/>
<line x1="423.15" y1="323.16" x2="584.90" y2="323.16" stroke="#929ba6" stroke-width="0.7" stroke-opacity="0.8"/>
<line x1="423.15" y1="333.27" x2="584.90" y2="333.27" stroke="#929ba6" stroke-width="0.7" stroke-opacity="0.8"/>
<line x1="423.15" y1="343.38" x2="584.90" y2="343.38" stroke="#929ba6" stroke-width="0.7" stroke-opacity="0.8"/>
<line x1="423.15" y1="353.49" x2="584.90" y2="353.49" stroke="#929ba6" stroke-width="0.7" stroke-opacity="0.8"/>
<line x1="423.15" y1="363.60" x2="584.90" y2="363.60" stroke="#929ba6" stroke-width="0.7" stroke-opacity="0.8"/>
<line x1="423.15" y1="373.71" x2="584.90" y2="373.71" stroke="#929ba6" stroke-width="0.7" stroke-opacity="0.8"/>
<line x1="423.15" y1="383.82" x2="584.90" y2="383.82" stroke="#929ba6" stroke-width="0.7" stroke-opacity="0.8"/>
<line x1="423.15" y1="393.93" x2="584.90" y2="393.93" stroke="#929ba6" stroke-width="0.7" stroke-opacity="0.8"/>
<line x1="423.15" y1="404.04" x2="584.90" y2="404.04" stroke="#929ba6" stroke-width="0.7" stroke-opacity="0.8"/>
<line x1="423.15" y1="414.15" x2="584.90" y2="414.15" stroke="#929ba6" stroke-width="0.7" stroke-opacity="0.8"/>
<line x1="423.15" y1="424.26" x2="584.90" y2="424.26" stroke="#929ba6" stroke-width="0.7" stroke-opacity="0.8"/>
<line x1="423.15" y1="434.37" x2="584.90" y2="434.37" stroke="#929ba6" stroke-width="0.7" stroke-opacity="0.8"/>
<line x1="423.15" y1="444.48" x2="584.90" y2="444.48" stroke="#929ba6" stroke-width="0.7" stroke-opacity="0.8"/>
<line x1="423.15" y1="454.59" x2="584.90" y2="454.59" stroke="#929ba6" stroke-width="0.7" stroke-opacity="0.8"/>
<line x1="423.15" y1="464.70" x2="584.90" y2="464.70" stroke="#929ba6" stroke-width="0.7" stroke-opacity="0.8"/>
<line x1="423.15" y1="474.81" x2="584.90" y2="474.81" stroke="#929ba6" stroke-width="0.7" stroke-opacity="0.8"/>
<line x1="423.15" y1="484.92" x2="584.90" y2="484.92" stroke="#929ba6" stroke-width="0.7" stroke-opacity="0.8"/>
<line x1="423.15" y1="495.03" x2="584.90" y2="495.03" stroke="#929ba6" stroke-width="0.7" stroke-opacity="0.8"/>
<line x1="423.15" y1="505.14" x2="584.90" y2="505.14" stroke="#929ba6" stroke-width="0.7" stroke-opacity="0.8"/>
<line x1="423.15" y1="515.25" x2="584.90" y2="515.25" stroke="#929ba6" stroke-width="0.7" stroke-opacity="0.8"/>
<line x1="423.15" y1="525.36" x2="584.90" y2="525.36" stroke="#929ba6" stroke-width="0.7" stroke-opacity="0.8"/>
<line x1="423.15" y1="535.47" x2="584.90" y2="535.47" stroke="#929ba6" stroke-width="0.7" stroke-opacity="0.8"/>
<line x1="423.15" y1="545.58" x2="584.90" y2="545.58" stroke="#929ba6" stroke-width="0.7" stroke-opacity="0.8"/>
<line x1="423.15" y1="555.69" x2="584.90" y2="555.69" stroke="#929ba6" stroke-width="0.7" stroke-opacity="0.8"/>
<line x1="423.15" y1="565.80" x2="584.90" y2="565.80" stroke="#929ba6" stroke-width="0.7" stroke-opacity="0.8"/>
<line x1="423.15" y1="575.91" x2="584.90" y2="575.91" stroke="#929ba6" stroke-width="0.7" stroke-opacity="0.8"/>
<line x1="423.15" y1="586.02" x2="584.90" y2="586.02" stroke="#929ba6" stroke-width="0.7" stroke-opacity="0.8"/>
<line x1="423.15" y1="596.13" x2="584.90" y2="596.13" stroke="#929ba6" stroke-width="0.7" stroke-opacity="0.8"/>
<line x1="423.15" y1="606.24" x2="584.90" y2="606.24" stroke="#929ba6" stroke-width="0.7" stroke-opacity="0.8"/>
<line x1="423.15" y1="616.35" x2="584.90" y2="616.35" stroke="#929ba6" stroke-width="0.7" stroke-opacity="0.8"/>
<line x1="423.15" y1="626.46" x2="584.90" y2="626.46" stroke="#929ba6" stroke-width="0.7" stroke-opacity="0.8"/>
<line x1="423.15" y1="636.57" x2="584.90" y2="636.57" stroke="#929ba6" stroke-width="0.7" stroke-opacity="0.8"/>
<line x1="423.15" y1="646.68" x2="584.90" y2="646.68" stroke="#929ba6" stroke-width="0.7" stroke-opacity="0.8"/>
<line x1="423.15" y1="656.79" x2="584.90" y2="656.79" stroke="#929ba6" stroke-width="0.7" stroke-opacity="0.8"/>
<line x1="423.15" y1="666.90" x2="584.90" y2="666.90" stroke="#929ba6" stroke-width="0.7" stroke-opacity="0.8"/>
<line x1="423.15" y1="677.01" x2="584.90" y2="677.01" stroke="#929ba6" stroke-width="0.7" stroke-opacity="0.8"/>
<line x1="423.15" y1="687.12" x2="584.90" y2="687.12" stroke="#929ba6" stroke-width="0.7" stroke-opacity="0.8"/>
<line x1="423.15" y1="697.23" x2="584.90" y2="697.23" stroke="#929ba6" stroke-width="0.7" stroke-opacity="0.8"/>
<line x1="423.15" y1="707.34" x2="584.90" y2="707.34" stroke="#929ba6" stroke-width="0.7" stroke-opacity="0.8"/>
<line x1="423.15" y1="717.45" x2="584.90" y2="717.45" stroke="#929ba6" stroke-width="0.7" stroke-opacity="0.8"/>
<line x1="449.60" y1="60.30" x2="449.60" y2="727.56" stroke="#929ba6" stroke-width="0.7" stroke-opacity="0.8"/>
<line x1="476.90" y1="60.30" x2="476.90" y2="727.56" stroke="#929ba6" stroke-width="0.7" stroke-opacity="0.8"/>
<line x1="504.00" y1="60.30" x2="504.00" y2="727.56" stroke="#929ba6" stroke-width="0.7" stroke-opacity="0.8"/>
<line x1="531.20" y1="60.30" x2="531.20" y2="727.56" stroke="#929ba6" stroke-width="0.7" stroke-opacity="0.8"/>
<line x1="558.30" y1="60.30" x2="558.30" y2="727.56" stroke="#929ba6" stroke-width="0.7" stroke-opacity="0.8"/>
<rect x="424.00" y="61.15" width="24.55" height="301.20" fill="none" stroke="#d8202e" stroke-width="1.7"/>
<rect x="448.35" y="363.25" width="29.10" height="91.80" fill="none" stroke="#d8202e" stroke-width="1.7"/>
<rect x="477.55" y="455.35" width="26.70" height="59.40" fill="none" stroke="#d8202e" stroke-width="1.7"/>
<rect x="504.65" y="515.15" width="25.50" height="59.70" fill="none" stroke="#d8202e" stroke-width="1.7"/>
<rect x="530.95" y="666.75" width="26.20" height="9.30" fill="none" stroke="#d8202e" stroke-width="1.7"/>
<rect x="423.15" y="53.20" width="26.45" height="4.70" fill="#4bb8d8" />
<rect x="449.60" y="53.20" width="27.30" height="4.70" fill="#d8234f" />
<rect x="476.90" y="53.20" width="27.10" height="4.70" fill="#3aae4e" />
<rect x="504.00" y="53.20" width="27.20" height="4.70" fill="#3a5fae" />
<rect x="531.20" y="53.20" width="27.10" height="4.70" fill="#b050a8" />
<rect x="558.30" y="53.20" width="26.60" height="4.70" fill="#ecd82c" />
<text transform="translate(587.6 69.20) scale(1.15 1)" font-size="11.6" fill="#222" font-family="Liberation Serif">53</text>
<text transform="translate(587.6 79.31) scale(1.15 1)" font-size="11.6" fill="#222" font-family="Liberation Serif">30</text>
<text transform="translate(587.6 89.42) scale(1.15 1)" font-size="11.6" fill="#222" font-family="Liberation Serif">29</text>
<text transform="translate(587.6 99.53) scale(1.15 1)" font-size="11.6" fill="#222" font-family="Liberation Serif">18</text>
<text transform="translate(587.6 109.64) scale(1.15 1)" font-size="11.6" fill="#222" font-family="Liberation Serif">20</text>
<text transform="translate(587.6 119.75) scale(1.15 1)" font-size="11.6" fill="#222" font-family="Liberation Serif">38</text>
<text transform="translate(587.6 129.87) scale(1.15 1)" font-size="11.6" fill="#222" font-family="Liberation Serif">34</text>
<text transform="translate(587.6 139.97) scale(1.15 1)" font-size="11.6" fill="#222" font-family="Liberation Serif">37</text>
<text transform="translate(587.6 150.09) scale(1.15 1)" font-size="11.6" fill="#222" font-family="Liberation Serif">61</text>
<text transform="translate(587.6 160.19) scale(1.15 1)" font-size="11.6" fill="#222" font-family="Liberation Serif">59</text>
<text transform="translate(587.6 170.30) scale(1.15 1)" font-size="11.6" fill="#222" font-family="Liberation Serif">50</text>
<text transform="translate(587.6 180.41) scale(1.15 1)" font-size="11.6" fill="#222" font-family="Liberation Serif">45</text>
<text transform="translate(587.6 190.53) scale(1.15 1)" font-size="11.6" fill="#222" font-family="Liberation Serif">44</text>
<text transform="translate(587.6 200.63) scale(1.15 1)" font-size="11.6" fill="#222" font-family="Liberation Serif">42</text>
<text transform="translate(587.6 210.74) scale(1.15 1)" font-size="11.6" fill="#222" font-family="Liberation Serif">36</text>
<text transform="translate(587.6 220.85) scale(1.15 1)" font-size="11.6" fill="#222" font-family="Liberation Serif">31</text>
<text transform="translate(587.6 230.97) scale(1.15 1)" font-size="11.6" fill="#222" font-family="Liberation Serif">21</text>
<text transform="translate(587.6 241.07) scale(1.15 1)" font-size="11.6" fill="#222" font-family="Liberation Serif">10</text>
<text transform="translate(587.6 251.18) scale(1.15 1)" font-size="11.6" fill="#222" font-family="Liberation Serif">9</text>
<text transform="translate(587.6 261.30) scale(1.15 1)" font-size="11.6" fill="#222" font-family="Liberation Serif">7</text>
<text transform="translate(587.6 271.41) scale(1.15 1)" font-size="11.6" fill="#222" font-family="Liberation Serif">8</text>
<text transform="translate(587.6 281.51) scale(1.15 1)" font-size="11.6" fill="#222" font-family="Liberation Serif">52</text>
<text transform="translate(587.6 291.62) scale(1.15 1)" font-size="11.6" fill="#222" font-family="Liberation Serif">66</text>
<text transform="translate(587.6 301.74) scale(1.15 1)" font-size="11.6" fill="#222" font-family="Liberation Serif">39</text>
<text transform="translate(587.6 311.85) scale(1.15 1)" font-size="11.6" fill="#222" font-family="Liberation Serif">65</text>
<text transform="translate(587.6 321.96) scale(1.15 1)" font-size="11.6" fill="#222" font-family="Liberation Serif">60</text>
<text transform="translate(587.6 332.06) scale(1.15 1)" font-size="11.6" fill="#222" font-family="Liberation Serif">51</text>
<text transform="translate(587.6 342.18) scale(1.15 1)" font-size="11.6" fill="#222" font-family="Liberation Serif">40</text>
<text transform="translate(587.6 352.29) scale(1.15 1)" font-size="11.6" fill="#222" font-family="Liberation Serif">11</text>
<text transform="translate(587.6 362.40) scale(1.15 1)" font-size="11.6" fill="#222" font-family="Liberation Serif">35</text>
<text transform="translate(587.6 372.50) scale(1.15 1)" font-size="11.6" fill="#222" font-family="Liberation Serif">3</text>
<text transform="translate(587.6 382.62) scale(1.15 1)" font-size="11.6" fill="#222" font-family="Liberation Serif">19</text>
<text transform="translate(587.6 392.73) scale(1.15 1)" font-size="11.6" fill="#222" font-family="Liberation Serif">12</text>
<text transform="translate(587.6 402.84) scale(1.15 1)" font-size="11.6" fill="#222" font-family="Liberation Serif">32</text>
<text transform="translate(587.6 412.94) scale(1.15 1)" font-size="11.6" fill="#222" font-family="Liberation Serif">25</text>
<text transform="translate(587.6 423.06) scale(1.15 1)" font-size="11.6" fill="#222" font-family="Liberation Serif">23</text>
<text transform="translate(587.6 433.17) scale(1.15 1)" font-size="11.6" fill="#222" font-family="Liberation Serif">24</text>
<text transform="translate(587.6 443.28) scale(1.15 1)" font-size="11.6" fill="#222" font-family="Liberation Serif">33</text>
<text transform="translate(587.6 453.38) scale(1.15 1)" font-size="11.6" fill="#222" font-family="Liberation Serif">54</text>
<text transform="translate(587.6 463.50) scale(1.15 1)" font-size="11.6" fill="#222" font-family="Liberation Serif">55</text>
<text transform="translate(587.6 473.61) scale(1.15 1)" font-size="11.6" fill="#222" font-family="Liberation Serif">43</text>
<text transform="translate(587.6 483.72) scale(1.15 1)" font-size="11.6" fill="#222" font-family="Liberation Serif">58</text>
<text transform="translate(587.6 493.82) scale(1.15 1)" font-size="11.6" fill="#222" font-family="Liberation Serif">57</text>
<text transform="translate(587.6 503.94) scale(1.15 1)" font-size="11.6" fill="#222" font-family="Liberation Serif">15</text>
<text transform="translate(587.6 514.04) scale(1.15 1)" font-size="11.6" fill="#222" font-family="Liberation Serif">56</text>
<text transform="translate(587.6 524.15) scale(1.15 1)" font-size="11.6" fill="#222" font-family="Liberation Serif">27</text>
<text transform="translate(587.6 534.26) scale(1.15 1)" font-size="11.6" fill="#222" font-family="Liberation Serif">63</text>
<text transform="translate(587.6 544.38) scale(1.15 1)" font-size="11.6" fill="#222" font-family="Liberation Serif">64</text>
<text transform="translate(587.6 554.49) scale(1.15 1)" font-size="11.6" fill="#222" font-family="Liberation Serif">62</text>
<text transform="translate(587.6 564.60) scale(1.15 1)" font-size="11.6" fill="#222" font-family="Liberation Serif">28</text>
<text transform="translate(587.6 574.70) scale(1.15 1)" font-size="11.6" fill="#222" font-family="Liberation Serif">48</text>
<text transform="translate(587.6 584.81) scale(1.15 1)" font-size="11.6" fill="#222" font-family="Liberation Serif">49</text>
<text transform="translate(587.6 594.92) scale(1.15 1)" font-size="11.6" fill="#222" font-family="Liberation Serif">2</text>
<text transform="translate(587.6 605.03) scale(1.15 1)" font-size="11.6" fill="#222" font-family="Liberation Serif">4</text>
<text transform="translate(587.6 615.14) scale(1.15 1)" font-size="11.6" fill="#222" font-family="Liberation Serif">13</text>
<text transform="translate(587.6 625.25) scale(1.15 1)" font-size="11.6" fill="#222" font-family="Liberation Serif">16</text>
<text transform="translate(587.6 635.36) scale(1.15 1)" font-size="11.6" fill="#222" font-family="Liberation Serif">17</text>
<text transform="translate(587.6 645.47) scale(1.15 1)" font-size="11.6" fill="#222" font-family="Liberation Serif">1</text>
<text transform="translate(587.6 655.58) scale(1.15 1)" font-size="11.6" fill="#222" font-family="Liberation Serif">14</text>
<text transform="translate(587.6 665.69) scale(1.15 1)" font-size="11.6" fill="#222" font-family="Liberation Serif">22</text>
<text transform="translate(587.6 675.80) scale(1.15 1)" font-size="11.6" fill="#222" font-family="Liberation Serif">47</text>
<text transform="translate(587.6 685.91) scale(1.15 1)" font-size="11.6" fill="#222" font-family="Liberation Serif">5</text>
<text transform="translate(587.6 696.02) scale(1.15 1)" font-size="11.6" fill="#222" font-family="Liberation Serif">26</text>
<text transform="translate(587.6 706.13) scale(1.15 1)" font-size="11.6" fill="#222" font-family="Liberation Serif">6</text>
<text transform="translate(587.6 716.24) scale(1.15 1)" font-size="11.6" fill="#222" font-family="Liberation Serif">41</text>
<text transform="translate(587.6 726.35) scale(1.15 1)" font-size="11.6" fill="#222" font-family="Liberation Serif">46</text>
<text x="435.80" y="742.10" font-size="12.6" fill="#222" text-anchor="middle" font-weight="normal" font-family="Liberation Serif" >K4</text>
<text x="463.90" y="742.10" font-size="12.6" fill="#222" text-anchor="middle" font-weight="normal" font-family="Liberation Serif" >K1</text>
<text x="491.50" y="742.10" font-size="12.6" fill="#222" text-anchor="middle" font-weight="normal" font-family="Liberation Serif" >K2</text>
<text x="517.70" y="742.10" font-size="12.6" fill="#222" text-anchor="middle" font-weight="normal" font-family="Liberation Serif" >K3</text>
<text x="545.60" y="742.10" font-size="12.6" fill="#222" text-anchor="middle" font-weight="normal" font-family="Liberation Serif" >K5</text>
<text x="571.90" y="742.10" font-size="12.6" fill="#222" text-anchor="middle" font-weight="normal" font-family="Liberation Serif" >K6</text>
<text transform="translate(587.40 58.60) scale(1.2 1)" font-size="10.4" fill="#333" letter-spacing="0.35" font-family="'Liberation Serif','Noto Serif CJK SC',serif">组别</text>
<text transform="translate(451.30 191.60) scale(1.22 1)" font-size="10.8" fill="#2e2e2e" letter-spacing="0.27" font-family="'Liberation Serif','Noto Serif CJK SC',serif">酚类</text>
<text transform="translate(451.30 213.00) scale(1.22 1)" font-size="10.8" fill="#2e2e2e" letter-spacing="0.27" font-family="'Liberation Serif','Noto Serif CJK SC',serif">吡嗪</text>
<text transform="translate(451.30 231.50) scale(1.22 1)" font-size="10.8" fill="#2e2e2e" letter-spacing="0.27" font-family="'Liberation Serif','Noto Serif CJK SC',serif">醇类</text>
<text transform="translate(479.30 397.30) scale(1.22 1)" font-size="10.8" fill="#2e2e2e" letter-spacing="0.27" font-family="'Liberation Serif','Noto Serif CJK SC',serif">酮类</text>
<text transform="translate(479.30 419.00) scale(1.22 1)" font-size="10.8" fill="#2e2e2e" letter-spacing="0.27" font-family="'Liberation Serif','Noto Serif CJK SC',serif">酸类</text>
<text transform="translate(508.60 488.10) scale(1.22 1)" font-size="10.8" fill="#2e2e2e" letter-spacing="0.27" font-family="'Liberation Serif','Noto Serif CJK SC',serif">烷烃</text>
<text transform="translate(535.00 546.40) scale(1.22 1)" font-size="10.8" fill="#2e2e2e" letter-spacing="0.27" font-family="'Liberation Serif','Noto Serif CJK SC',serif">酯类</text>
<text transform="translate(559.60 675.65) scale(1.25 1)" font-size="10" fill="#2e2e2e" letter-spacing="0.24" font-family="'Liberation Serif','Noto Serif CJK SC',serif">吡啶</text>
<polyline points="437.30,53.30 437.30,18.10 489.70,18.10 489.70,34.50" fill="none" stroke="#1a1a1a" stroke-width="0.9"/>
<polyline points="464.30,53.30 464.30,34.50 515.20,34.50 515.20,37.40" fill="none" stroke="#1a1a1a" stroke-width="0.9"/>
<polyline points="491.00,53.30 491.00,37.40 538.80,37.40 538.80,40.10" fill="none" stroke="#1a1a1a" stroke-width="0.9"/>
<polyline points="518.20,53.30 518.20,40.10 559.40,40.10 559.40,46.40" fill="none" stroke="#1a1a1a" stroke-width="0.9"/>
<polyline points="544.70,53.30 544.70,46.40 572.60,46.40 572.60,53.30" fill="none" stroke="#1a1a1a" stroke-width="0.9"/>
<polyline points="421.60,125.60 396.50,125.60 396.50,456.30 414.60,456.30" fill="none" stroke="#1a1a1a" stroke-width="0.9"/>
<polyline points="422.40,380.70 414.60,380.70 414.60,531.40 416.60,531.40" fill="none" stroke="#1a1a1a" stroke-width="0.9"/>
<polyline points="422.40,369.00 422.40,392.40" fill="none" stroke="#666" stroke-width="0.8"/>
<polyline points="423.00,469.60 416.60,469.60 416.60,593.30 418.30,593.30" fill="none" stroke="#1a1a1a" stroke-width="0.9"/>
<polyline points="423.00,537.60 418.30,537.60 418.30,649.40 419.70,649.40" fill="none" stroke="#1a1a1a" stroke-width="0.9"/>
<polyline points="422.50,604.70 420.00,604.70 420.00,695.00 421.30,695.00" fill="none" stroke="#555" stroke-width="1.0"/>
<polyline points="422.60,581.30 422.60,630.80" fill="none" stroke="#333" stroke-width="0.8"/>
<polyline points="421.30,679.00 421.30,709.40" fill="none" stroke="#333" stroke-width="0.8"/>
<polyline points="422.60,672.30 422.60,722.20" fill="none" stroke="#333" stroke-width="0.8"/>
<linearGradient id="cb" x1="0" y1="0" x2="0" y2="1">
<stop offset="0" stop-color="#6b1220"/><stop offset="0.1" stop-color="#a21c2c"/><stop offset="0.2" stop-color="#c8403f"/>
<stop offset="0.3" stop-color="#e58267"/><stop offset="0.4" stop-color="#f8c3a9"/><stop offset="0.5" stop-color="#f6f4f3"/>
<stop offset="0.6" stop-color="#c9e2ef"/><stop offset="0.7" stop-color="#86bfdc"/><stop offset="0.8" stop-color="#3d8fc3"/>
<stop offset="0.9" stop-color="#1f5fa8"/><stop offset="1" stop-color="#25397a"/></linearGradient>
<rect x="620.10" y="65.60" width="5.40" height="100.50" fill="url(#cb)" />
<text transform="translate(626.8 70.50) scale(1.15 1)" font-size="11.6" fill="#222" font-family="Liberation Serif">2</text>
<text transform="translate(626.8 95.70) scale(1.15 1)" font-size="11.6" fill="#222" font-family="Liberation Serif">1</text>
<text transform="translate(626.8 118.80) scale(1.15 1)" font-size="11.6" fill="#222" font-family="Liberation Serif">0</text>
<line x1="627.70" y1="137.80" x2="638.10" y2="137.80" stroke="#151515" stroke-width="1.3" />
<text transform="translate(640.2 141.40) scale(1.15 1)" font-size="11.6" fill="#222" font-family="Liberation Serif">1</text>
<line x1="627.70" y1="162.30" x2="638.10" y2="162.30" stroke="#151515" stroke-width="1.3" />
<text transform="translate(640.2 165.90) scale(1.15 1)" font-size="11.6" fill="#222" font-family="Liberation Serif">2</text>
<text transform="translate(648.20 60.60) scale(1.2 1)" font-size="10.4" fill="#333" letter-spacing="0.35" font-family="'Liberation Serif','Noto Serif CJK SC',serif">组别</text>
<rect x="646.9" y="65.30" width="7.6" height="7.9" fill="#d8234f" stroke="#c8c8c8" stroke-width="0.5"/>
<text transform="translate(655.6 72.90) scale(1.22 1)" font-size="10.8" fill="#222" font-family="Liberation Serif">K1</text>
<rect x="646.9" y="74.33" width="7.6" height="7.9" fill="#3aae4e" stroke="#c8c8c8" stroke-width="0.5"/>
<text transform="translate(655.6 81.93) scale(1.22 1)" font-size="10.8" fill="#222" font-family="Liberation Serif">K2</text>
<rect x="646.9" y="83.36" width="7.6" height="7.9" fill="#3a5fae" stroke="#c8c8c8" stroke-width="0.5"/>
<text transform="translate(655.6 90.96) scale(1.22 1)" font-size="10.8" fill="#222" font-family="Liberation Serif">K3</text>
<rect x="646.9" y="92.39" width="7.6" height="7.9" fill="#4bb8d8" stroke="#c8c8c8" stroke-width="0.5"/>
<text transform="translate(655.6 99.99) scale(1.22 1)" font-size="10.8" fill="#222" font-family="Liberation Serif">K4</text>
<rect x="646.9" y="101.42" width="7.6" height="7.9" fill="#b050a8" stroke="#c8c8c8" stroke-width="0.5"/>
<text transform="translate(655.6 109.02) scale(1.22 1)" font-size="10.8" fill="#222" font-family="Liberation Serif">K5</text>
<rect x="646.9" y="110.45" width="7.6" height="7.9" fill="#ecd82c" stroke="#c8c8c8" stroke-width="0.5"/>
<text transform="translate(655.6 118.05) scale(1.22 1)" font-size="10.8" fill="#222" font-family="Liberation Serif">K6</text>
<text x="209.40" y="778.50" font-size="11.6" fill="#333" text-anchor="start" font-weight="normal" font-family="Liberation Serif" >A</text>
<text x="218.40" y="778.50" font-size="11.6" fill="#333" text-anchor="start" font-weight="normal" font-family="Liberation Serif" >.</text>
<text x="222.30" y="778.50" font-size="11" fill="#333" text-anchor="start" letter-spacing="1.52" font-family="'Liberation Serif','Noto Serif CJK SC',serif">挥发性化合物得分图；</text>
<text x="347.70" y="778.50" font-size="11.6" fill="#333" text-anchor="start" font-weight="normal" font-family="Liberation Serif" >B</text>
<text x="356.00" y="778.50" font-size="11.6" fill="#333" text-anchor="start" font-weight="normal" font-family="Liberation Serif" >.</text>
<text x="360.30" y="778.50" font-size="11" fill="#333" text-anchor="start" letter-spacing="1.42" font-family="'Liberation Serif','Noto Serif CJK SC',serif">挥发性化合物载荷图；</text>
<text x="484.00" y="778.50" font-size="11.6" fill="#333" text-anchor="start" font-weight="normal" font-family="Liberation Serif" >C</text>
<text x="492.40" y="778.50" font-size="11.6" fill="#333" text-anchor="start" font-weight="normal" font-family="Liberation Serif" >.</text>
<text x="496.60" y="778.50" font-size="11" fill="#333" text-anchor="start" font-family="'Liberation Serif','Noto Serif CJK SC',serif">挥</text>
<text x="209.60" y="796.70" font-size="11" fill="#333" text-anchor="start" letter-spacing="1.55" font-family="'Liberation Serif','Noto Serif CJK SC',serif">发性化合物含量变化热图。挥发性化合物序号同表</text>
<text x="489.40" y="796.70" font-size="11.6" fill="#333" text-anchor="start" font-weight="normal" font-family="Liberation Serif" >1</text>
<text x="496.60" y="796.70" font-size="11" fill="#333" text-anchor="start" font-family="'Liberation Serif','Noto Serif CJK SC',serif">。</text>
<text x="263.30" y="816.40" font-size="11.4" fill="#1e1e1e" text-anchor="start" font-weight="bold" font-family="'Liberation Serif','Noto Serif CJK SC',serif">图</text>
<text x="277.60" y="816.20" font-size="11.4" fill="#1e1e1e" text-anchor="start" font-weight="bold" font-family="Liberation Serif" >3</text>
<text x="301.70" y="816.40" font-size="11.4" fill="#1e1e1e" text-anchor="start" font-weight="bold" letter-spacing="0.35" font-family="'Liberation Serif','Noto Serif CJK SC',serif">不同咖啡中挥发性化合物分析</text></svg></body></html>
